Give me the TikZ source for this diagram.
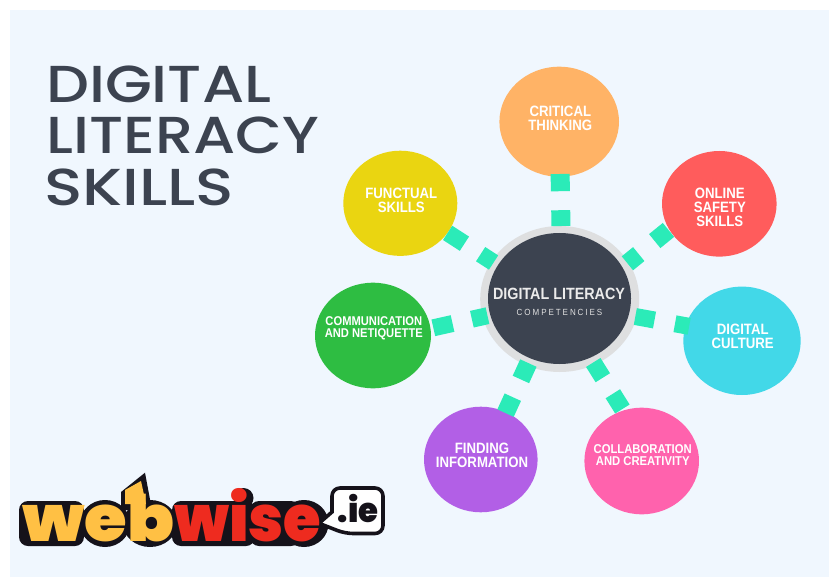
\documentclass[tikz,border=0pt]{standalone}
\usepackage{fontspec}
\usetikzlibrary{shapes.geometric}
\newfontfamily\titlefont[FakeStretch=1.165]{Poppins Medium}
\newfontfamily\titlefontb[FakeStretch=1.22]{Poppins Medium}
\newfontfamily\satfont[FakeStretch=0.88]{Liberation Sans}
\newfontfamily\subfont[FakeStretch=0.9,LetterSpace=22]{Liberation Sans}
\newfontfamily\logofont[FakeStretch=0.95]{Poppins Black}
\newfontfamily\logoweb[FakeStretch=1.08]{Poppins Black}
\newfontfamily\logofontw[FakeStretch=0.95]{Poppins Black}
\definecolor{bgblue}{HTML}{F0F7FE}
\definecolor{ink}{HTML}{3C4350}
\definecolor{ringgrey}{HTML}{DEDFE0}
\definecolor{teal}{HTML}{2BEBB8}
\definecolor{cCrit}{HTML}{FFB366}
\definecolor{cFunc}{HTML}{EAD511}
\definecolor{cOnl}{HTML}{FF5C5C}
\definecolor{cCult}{HTML}{42D8E8}
\definecolor{cComm}{HTML}{2EBD42}
\definecolor{cFind}{HTML}{B25FE6}
\definecolor{cColl}{HTML}{FF62AD}
\definecolor{logoY}{HTML}{FFC044}
\definecolor{logoR}{HTML}{EE2B1F}
\definecolor{logoK}{HTML}{15121A}
\tikzset{
  oval/.style={ellipse,inner sep=0pt,outer sep=0pt},
  sattext/.style={text=white,align=center,font=\satfont\bfseries\fontsize{15}{14}\selectfont},
  titleline/.style={anchor=base west,inner sep=0pt,text=ink,font=\titlefont\fontsize{52}{52}\selectfont},
  link/.style={draw=teal,line width=18pt},
}
\begin{document}
\begin{tikzpicture}[x=1pt,y=-1pt]
\useasboundingbox (0,0) rectangle (829,577);
\fill[white] (0,0) rectangle (829,577);
\fill[bgblue] (10,10) rectangle (829,577);
% title
\node[titleline] (title1) at (46,102.3) {DIGITAL};
\node[titleline] (title2) at (46,154) {LITERACY};
\node[titleline,font=\titlefontb\fontsize{52}{52}\selectfont] (title3) at (44,206) {SKILLS};
% satellites
\node[oval,fill=cCrit,minimum width=119.6pt,minimum height=110pt] (crit) at (559.2,121.7) {};
\node[oval,fill=cFunc,minimum width=114pt,minimum height=105.2pt] (func) at (400.3,203.3) {};
\node[oval,fill=cOnl,minimum width=114.6pt,minimum height=105.6pt] (onl) at (719.3,203.8) {};
\node[oval,fill=cCult,minimum width=117.4pt,minimum height=108.4pt] (cult) at (742,340.8) {};
\node[oval,fill=cComm,minimum width=116pt,minimum height=105.6pt] (comm) at (373,335.5) {};
\node[oval,fill=cFind,minimum width=113.6pt,minimum height=105.6pt] (find) at (480.8,459.5) {};
\node[oval,fill=cColl,minimum width=114.6pt,minimum height=106.6pt] (coll) at (641.7,461) {};
\node[sattext] (critT) at (560.3,118) {CRITICAL\\THINKING};
\node[sattext] (funcT) at (401.3,200) {FUNCTUAL\\SKILLS};
\node[sattext] (onlT) at (719.8,207.3) {ONLINE\\SAFETY\\SKILLS};
\node[sattext] (cultT) at (742.7,336.7) {DIGITAL\\CULTURE};
\node[sattext,font=\satfont\bfseries\fontsize{12.7}{11.8}\selectfont] (commT) at (373.8,328.5) {COMMUNICATION\\AND NETIQUETTE};
\node[sattext] (findT) at (482,455.5) {FINDING\\INFORMATION};
\node[sattext,font=\satfont\bfseries\fontsize{12.8}{12}\selectfont] (collT) at (642.7,454.8) {COLLABORATION\\AND CREATIVITY};
% hub
\node[oval,fill=ringgrey,minimum width=159pt,minimum height=146pt] (ring) at (559.7,299) {};
\node[oval,fill=ink,minimum width=143pt,minimum height=131pt] (hub) at (559.5,298.5) {};
\node[anchor=base,inner sep=0pt,text=white!92!black,font=\satfont\bfseries\fontsize{16.3}{16.5}\selectfont] (hubA) at (559,299.3) {DIGITAL LITERACY};
\node[anchor=base,inner sep=0pt,text=white!88!black,font=\subfont\fontsize{8.9}{9}\selectfont] (hubB) at (559.5,315.7) {COMPETENCIES};
% connectors
\draw[link,line width=19pt,dash pattern=on 15.8pt off 19pt on 17.9pt off 100pt,shorten >=-2.7pt] (ring.89) -- (crit.271.9);
\draw[link,dash pattern=on 14.6pt off 20.6pt on 17.7pt off 100pt,shorten <=-1.4pt] (ring.28.5) -- (onl.207.6);
\draw[link,line width=17pt,dash pattern=on 15.4pt off 19.3pt on 20pt off 100pt,shorten <=-2.3pt] (ring.151.6) -- (func.328.1);
\draw[link,line width=17pt,dash pattern=on 16pt off 19.8pt on 19.7pt off 100pt,shorten <=-5pt] (ring.193.2) -- (comm.7.3);
\draw[link,line width=17pt,dash pattern=on 19.5pt off 20.8pt on 15pt off 100pt,shorten <=-1.5pt,shorten >=-3.6pt] (ring.347.1) -- (cult.165.2);
\draw[link,dash pattern=on 18pt off 19.5pt on 18pt off 100pt,shorten <=-2.8pt,shorten >=-1pt] (ring.244.1) -- (find.62.8);
\draw[link,line width=17pt,dash pattern=on 18pt off 18.9pt on 18pt off 100pt,shorten <=-2.5pt] (ring.298.2) -- (coll.110.6);
% logo: black backing
\fill[logoK,rounded corners=9pt] (19,501) -- (84,501) -- (84,546) -- (19,546) -- cycle;
\fill[logoK] (105,523.5) ellipse [x radius=25, y radius=23.5];
\fill[logoK] (150,523.5) ellipse [x radius=27, y radius=23.5];
\fill[logoK] (121,492) -- (121,510) -- (152,510) -- (145,472.7) -- cycle;
\fill[logoK,rounded corners=9pt] (172,501) -- (255,501) -- (255,546) -- (172,546) -- cycle;
\fill[logoK] (243.5,498) circle [radius=10];
\fill[logoK,rounded corners=9pt] (250,501) -- (300,501) -- (300,546) -- (250,546) -- cycle;
\fill[logoK] (304,523.5) ellipse [x radius=24.5, y radius=23.5];
\draw[logoK,line width=3.6pt,fill=white,rounded corners=8pt] (332,488) -- (383,488) -- (383,533.5) -- (345,533.5) [sharp corners] -- (319,523.3) -- (332,512) [rounded corners=8pt] -- cycle;
\node[anchor=base,inner sep=0pt,text=logoK,font=\logofont\fontsize{34}{34}\selectfont] (ie) at (358,522.7) {.ie};
\fill[logoY] (125,490) -- (125,504) -- (146,504) -- (141,481) -- cycle;
\node[anchor=base west,inner sep=0pt,text=logoY,font=\logoweb\fontsize{64}{64}\selectfont] (web) at (22,541) {web};
\node[anchor=base west,inner sep=0pt,text=logoR,font=\logofontw\fontsize{64}{64}\selectfont] (wise) at (174,541) {wise};
\end{tikzpicture}
\end{document}
